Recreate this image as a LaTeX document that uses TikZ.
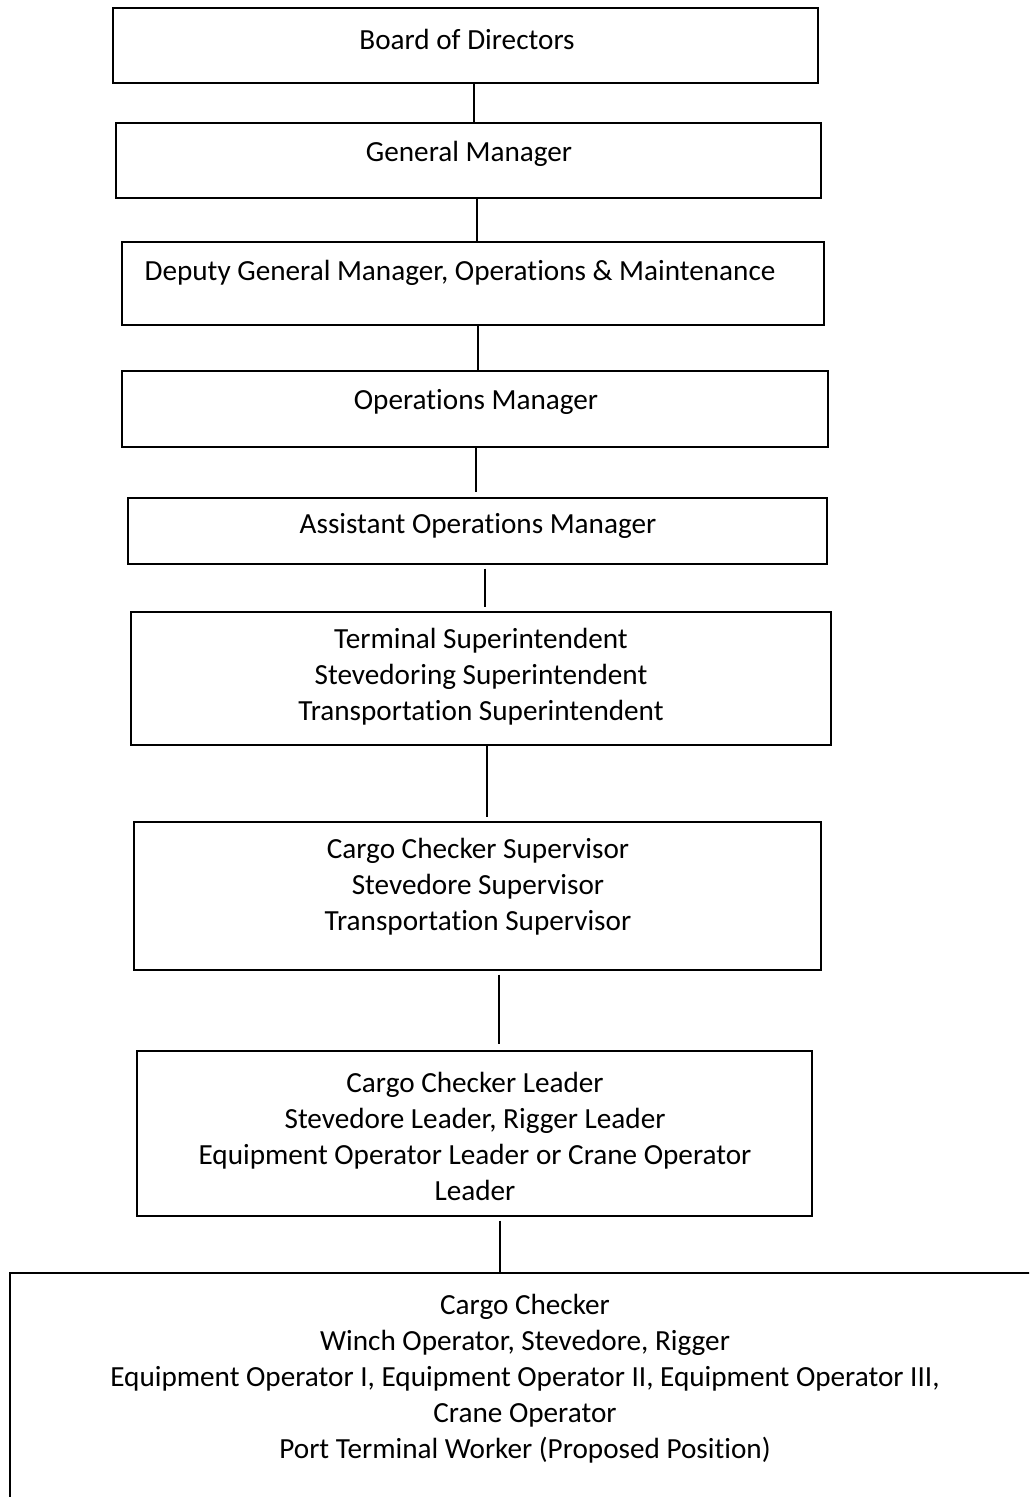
\documentclass[tikz,border=0pt]{standalone}
\usepackage{fontspec}
\setmainfont{Carlito}[Ligatures={NoCommon}]
\usetikzlibrary{fit}
\begin{document}
\begin{tikzpicture}[x=0.5pt,y=-0.5pt,
  box/.style={draw=black,line width=0.7pt,inner sep=0pt},
  lbl/.style={align=center,inner sep=0pt,font=\fontsize{14.6}{18}\selectfont},
  link/.style={draw=black,line width=0.6pt}]
\clip (0,0) rectangle (1029,1497);
\fill[white] (0,0) rectangle (1029,1497);
\node[box,fit={(113,8) (818,83)}] (b1) {};
\node[box,fit={(116,123) (821,198)}] (b2) {};
\node[box,fit={(122,242) (824,325)}] (b3) {};
\node[box,fit={(122,371) (828,447)}] (b4) {};
\node[box,fit={(128,498) (827,564)}] (b5) {};
\node[box,fit={(131,612) (831,745)}] (b6) {};
\node[box,fit={(134,822) (821,970)}] (b7) {};
\node[box,fit={(137,1051) (812,1216)}] (b8) {};
\node[box,fit={(10,1273) (1060,1530)}] (b9) {};
\node[lbl] (t1) at (467,39) {Board of Directors};
\node[lbl] (t2) at (469,154) {General Manager};
\node[lbl] (t3) at (460,273) {Deputy General Manager, Operations \& Maintenance};
\node[lbl] (t4) at (476,402) {Operations Manager};
\node[lbl] (t5) at (478,526) {Assistant Operations Manager};
\node[lbl] (t6) at (481,677) {Terminal Superintendent\\Stevedoring Superintendent\\Transportation Superintendent};
\node[lbl] (t7) at (478,887) {Cargo Checker Supervisor\\Stevedore Supervisor\\Transportation Supervisor};
\node[lbl] (t8) at (475,1136) {Cargo Checker Leader\\Stevedore Leader, Rigger Leader\\Equipment Operator Leader or Crane Operator\\Leader};
\node[lbl] (t9) at (525,1379) {Cargo Checker\\Winch Operator, Stevedore, Rigger\\Equipment Operator I, Equipment Operator II, Equipment Operator III,\\Crane Operator\\Port Terminal Worker (Proposed Position)};
\draw[link] (b1.south -| 474,0) -- (b2.north -| 474,0);
\draw[link] (b2.south -| 477,0) -- (b3.north -| 477,0);
\draw[link] (b3.south -| 478,0) -- (b4.north -| 478,0);
\draw[link] (b4.south -| 476,0) -- ([yshift=2.5pt]b5.north -| 476,0);
\draw[link] ([yshift=-2pt]b5.south -| 485,0) -- ([yshift=2pt]b6.north -| 485,0);
\draw[link] (b6.south -| 487,0) -- ([yshift=2pt]b7.north -| 487,0);
\draw[link] ([yshift=-2pt]b7.south -| 499,0) -- ([yshift=3pt]b8.north -| 499,0);
\draw[link] ([yshift=-2pt]b8.south -| 500,0) -- (b9.north -| 500,0);
\end{tikzpicture}
\end{document}
